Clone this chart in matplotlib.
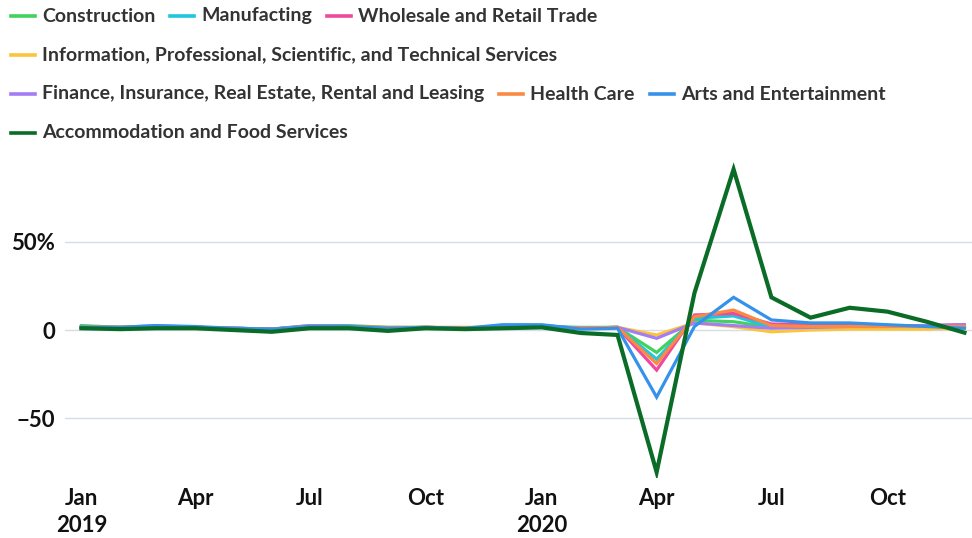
import matplotlib
matplotlib.use("Agg")
import matplotlib.pyplot as plt
from matplotlib.lines import Line2D
import pandas as pd

plt.rcParams['font.family'] = ['Lato', 'DejaVu Sans']

# monthly % change, Jan 2019 .. Dec 2020
months = pd.date_range("2019-01-01", "2020-12-01", freq="MS")

construction = [2.5, 1.5, 1.8, 1.5, 1.0, 0.5, 2.5, 2.5, 1.5, 1.5, 1.0, 1.0,
                2.0, 1.5, 1.5, -12.7, 5.5, 4.7, 1.5, 1.5, 1.5, 1.5, 1.5, 1.5]
manufacturing = [2.0, 1.5, 1.5, 1.5, 1.0, 0.5, 2.0, 2.0, 1.0, 1.5, 1.0, 1.0,
                 2.0, 1.0, 1.5, -16.5, 6.6, 8.0, 1.5, 2.0, 2.0, 1.5, 1.5, 1.5]
wholesale = [1.5, 1.5, 2.0, 1.5, 1.0, 0.5, 2.0, 2.0, 1.0, 1.5, 1.0, 1.5,
             2.0, 1.0, 1.5, -22.7, 8.5, 9.4, 3.4, 3.0, 3.0, 2.5, 2.5, 3.0]
info = [1.5, 1.5, 1.5, 1.5, 1.0, 0.0, 1.5, 2.0, 1.0, 1.5, 1.0, 1.5,
        2.0, 1.0, 1.5, -2.8, 4.0, 1.9, -1.0, 0.0, 0.5, 0.5, 0.5, 1.0]
finance = [1.5, 1.5, 2.5, 1.5, 1.0, 0.5, 2.5, 2.0, 1.0, 1.5, 1.0, 2.0,
           2.5, 1.0, 1.5, -4.7, 4.0, 2.5, 1.0, 1.5, 2.0, 2.0, 2.5, 3.0]
health = [1.5, 1.5, 2.0, 1.5, 1.0, 0.5, 2.0, 2.0, 1.5, 1.5, 1.5, 1.5,
          2.0, 1.0, 1.5, -19.0, 7.5, 11.3, 2.5, 2.0, 2.0, 2.0, 2.0, 2.0]
arts = [1.5, 1.5, 2.5, 2.0, 1.0, 0.5, 2.0, 2.0, 1.0, 1.5, 1.0, 3.0,
        3.0, 0.5, 1.0, -38.0, 2.0, 18.5, 5.7, 4.0, 4.0, 3.0, 2.0, 1.0]
accommodation = [1.0, 0.5, 1.0, 1.0, 0.0, -1.0, 1.0, 1.0, -0.5, 1.0, 0.5, 1.0,
                 1.5, -1.7, -2.8, -80.5, 21.0, 91.0, 18.5, 7.0, 12.6, 10.4, 4.7, -1.5]

names = ["Construction", "Manufacting", "Wholesale and Retail Trade",
         "Information, Professional, Scientific, and Technical Services",
         "Finance, Insurance, Real Estate, Rental and Leasing", "Health Care",
         "Arts and Entertainment", "Accommodation and Food Services"]
series = [construction, manufacturing, wholesale, info, finance, health, arts, accommodation]
colors = ["#3fd35e", "#1cc8da", "#f0489e", "#fcc43a", "#a47cf3", "#f98a44", "#3592ea", "#0a6c26"]

fig = plt.figure(figsize=(9.72, 5.38), dpi=100)
ax = fig.add_axes([65 / 972, 60 / 538, 907 / 972, 323 / 538])

for vals, c, name in zip(series, colors, names):
    lw = 3.0 if name.startswith("Accommodation") else 2.3
    ax.plot(months, vals, color=c, lw=lw, solid_joinstyle='miter')

ax.set_xlim(pd.Timestamp("2018-12-19"), pd.Timestamp("2020-12-07"))
ax.set_ylim(-83.8, 99.1)
ax.set_yticks([-50, 0, 50])
ax.set_yticklabels(["\u221250", "0", "50%"])
ax.yaxis.grid(True, color="#d5dce4", lw=1)
ax.set_axisbelow(True)
tick_dates = pd.date_range("2019-01-01", "2020-10-01", freq="QS")
labels = []
for d in tick_dates:
    lab = d.strftime("%b")
    if d.month == 1:
        lab += "\n" + str(d.year)
    labels.append(lab)
ax.set_xticks(tick_dates)
ax.set_xticklabels(labels, va="top", linespacing=1.35)
ax.tick_params(length=0, labelsize=16, labelcolor="#111111", pad=7)
for lab in ax.get_xticklabels() + ax.get_yticklabels():
    lab.set_fontweight("bold")
for s in ax.spines.values():
    s.set_visible(False)

# legend rows drawn by hand (uneven entries per row)
rows = [[0, 1, 2], [3], [4, 5, 6], [7]]
row_y = [16, 55, 94, 133]
renderer = fig.canvas.get_renderer()
for row, y in zip(rows, row_y):
    x = 11
    yf = 1 - y / 538
    for i in row:
        fig.add_artist(Line2D([x / 972, (x + 24) / 972], [yf, yf], color=colors[i], lw=2.6,
                              transform=fig.transFigure))
        t = fig.text((x + 31) / 972, yf, names[i], fontsize=14, fontweight="bold",
                     color="#333333", va="center", ha="left")
        w = t.get_window_extent(renderer).width
        x = x + 31 + w + 15

fig.savefig("out.png", dpi=100)
